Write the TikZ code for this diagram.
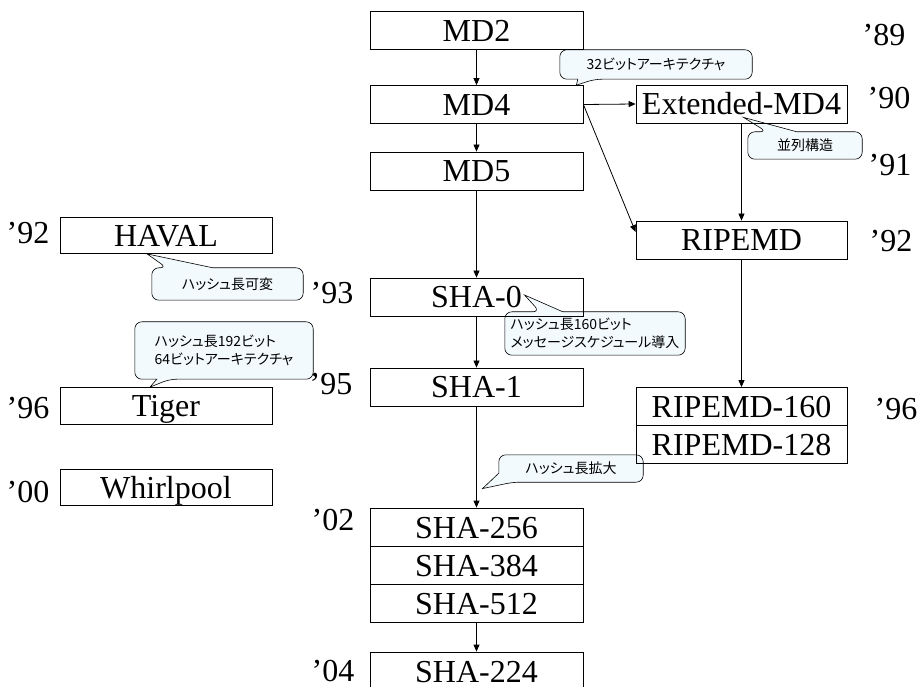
\documentclass[tikz,border=0pt]{standalone}
\usepackage{fontspec}
\setmainfont{Liberation Serif}
\newfontfamily\jpfont[RawFeature=+palt]{Noto Sans CJK JP}
\usetikzlibrary{arrows.meta,backgrounds}

\begin{document}
\begin{tikzpicture}[x=1pt, y=-1pt,
    algbox/.style={draw, line width=0.8pt, minimum width=213pt, minimum height=38pt,
        inner sep=0pt, text height=25pt, text depth=3pt, font=\fontsize{32}{34}\selectfont},
    year/.style={inner sep=0pt, text height=25pt, text depth=3pt, font=\fontsize{32}{34}\selectfont},
    note/.style={inner sep=0pt, align=left, font=\jpfont\fontsize{14}{18}\selectfont},
    bubble/.style={draw=black, line width=0.6pt, fill=bubbleColour},
    link/.style={line width=0.8pt, -{Triangle[length=7pt,width=6pt]}}]
    \definecolor{bubbleColour}{HTML}{F2FAFD}

    \useasboundingbox (0,0) rectangle (922,687);

    % MD family
    \node[algbox] (md2) at (476.5,30.5) {MD2};
    \node[algbox] (md4) at (476.5,104.5) {MD4};
    \node[algbox] (md5) at (476.5,171) {MD5};
    \node[algbox, minimum width=211pt] (extmd4) at (741.5,104) {Extended-MD4};

    % RIPEMD family
    \node[algbox, minimum width=211pt] (ripemd) at (741.5,240) {RIPEMD};
    \node[algbox, minimum width=211pt] (ripemd160) at (741.5,406.5) {RIPEMD-160};
    \node[algbox, minimum width=211pt] (ripemd128) at (741.5,444.5) {RIPEMD-128};

    % SHA family
    \node[algbox] (sha0) at (476.5,297) {SHA-0};
    \node[algbox] (sha1) at (476.5,387) {SHA-1};
    \node[algbox] (sha256) at (476.5,527) {SHA-256};
    \node[algbox] (sha384) at (476.5,565) {SHA-384};
    \node[algbox] (sha512) at (476.5,603) {SHA-512};
    \node[algbox] (sha224) at (476.5,671) {SHA-224};

    % Others
    \node[algbox, minimum width=212pt, minimum height=36pt] (haval) at (166,235.5) {HAVAL};
    \node[algbox, minimum width=212pt, minimum height=37pt] (tiger) at (166,406) {Tiger};
    \node[algbox, minimum width=212pt, minimum height=36pt] (whirlpool) at (166,487.5) {Whirlpool};

    % Years
    \node[year] (y89) at (884,35) {’89};
    \node[year] (y90) at (889,98) {’90};
    \node[year] (y91) at (890,165) {’91};
    \node[year] (y92r) at (891,241) {’92};
    \node[year] (y96r) at (896,408) {’96};
    \node[year] (y92l) at (28,233) {’92};
    \node[year] (y93) at (332,293) {’93};
    \node[year] (y95) at (331,384) {’95};
    \node[year] (y96l) at (28,407) {’96};
    \node[year] (y00) at (28,491) {’00};
    \node[year] (y02) at (333,519) {’02};
    \node[year] (y04) at (333,670) {’04};

    % Arrows
    \draw[link] (md2) -- (md4);
    \draw[link] (md4) -- (md5);
    \draw[link] (md4.east) -- (extmd4.west);
    \draw[link] (md4.east) -- ([yshift=8pt]ripemd.west);
    \draw[link] (extmd4) -- (ripemd);
    \draw[link] (ripemd) -- (ripemd160);
    \draw[link] (md5) -- (sha0);
    \draw[link] (sha0) -- (sha1);
    \draw[link] (sha1) -- (sha256);
    \draw[link] (sha512) -- (sha224);

    % Notes
    \node[note, minimum width=192pt, minimum height=29pt] (n32) at (656,64.5) {32ビットアーキテクチャ};
    \node[note, minimum width=114pt, minimum height=27pt] (npar) at (805,145.5) {並列構造};
    \node[note, minimum width=151pt, minimum height=32pt] (nvar) at (227.5,284) {ハッシュ長可変};
    \node[note, minimum width=178pt, minimum height=57pt] (ntiger) at (224,350.5) {ハッシュ長192ビット\\64ビットアーキテクチャ};
    \node[note, minimum width=180pt, minimum height=43pt] (nsha0) at (595,333.5) {ハッシュ長160ビット\\メッセージスケジュール導入};
    \node[note, minimum width=144pt, minimum height=27pt] (nsha2) at (571,468.5) {ハッシュ長拡大};

    % Callout outlines
    \begin{scope}[on background layer]
    \draw[bubble] (n32.north) [rounded corners=7pt] -- (n32.north east) -- (n32.south east)
        -- ([xshift=35pt]n32.south west) [sharp corners] -- ([xshift=-7pt]md4.north east)
        -- ([xshift=18pt]n32.south west) [rounded corners=7pt] -- (n32.south west) -- (n32.north west) -- cycle;
    \draw[bubble] (npar.south) [rounded corners=7pt] -- (npar.south west) -- (npar.north west)
        -- ([xshift=19pt]npar.north west) [sharp corners] -- ([xshift=2pt,yshift=6pt]extmd4.south)
        -- ([xshift=49pt]npar.north west) [rounded corners=7pt] -- (npar.north east) -- (npar.south east) -- cycle;
    \draw[bubble] (nvar.south) [rounded corners=7pt] -- (nvar.south west) -- (nvar.north west)
        -- ([xshift=15pt]nvar.north west) [sharp corners] -- ([xshift=-19pt]haval.south)
        -- ([xshift=61pt]nvar.north west) [rounded corners=7pt] -- (nvar.north east) -- (nvar.south east) -- cycle;
    \draw[bubble] (ntiger.north) [rounded corners=7pt] -- (ntiger.north east) -- (ntiger.south east)
        -- ([xshift=35pt]ntiger.south west) [sharp corners] -- ([xshift=-16pt]tiger.north)
        -- ([xshift=22pt]ntiger.south west) [rounded corners=7pt] -- (ntiger.south west) -- (ntiger.north west) -- cycle;
    \draw[bubble] (nsha0.south) [rounded corners=7pt] -- (nsha0.south west) -- (nsha0.north west)
        -- ([xshift=35pt]nsha0.north west) [sharp corners] -- ([xshift=48pt,yshift=2pt]sha0.center)
        -- ([xshift=58pt]nsha0.north west) [rounded corners=7pt] -- (nsha0.north east) -- (nsha0.south east) -- cycle;
    \draw[bubble] (nsha2.north) [rounded corners=7pt] -- (nsha2.north east) -- (nsha2.south east)
        -- ([xshift=14pt]nsha2.south west) [sharp corners] -- ([xshift=6pt,yshift=19pt]sha256.north)
        -- ([yshift=9pt]nsha2.south west) [rounded corners=7pt] -- (nsha2.north west) -- cycle;
    \end{scope}
\end{tikzpicture}
\end{document}
